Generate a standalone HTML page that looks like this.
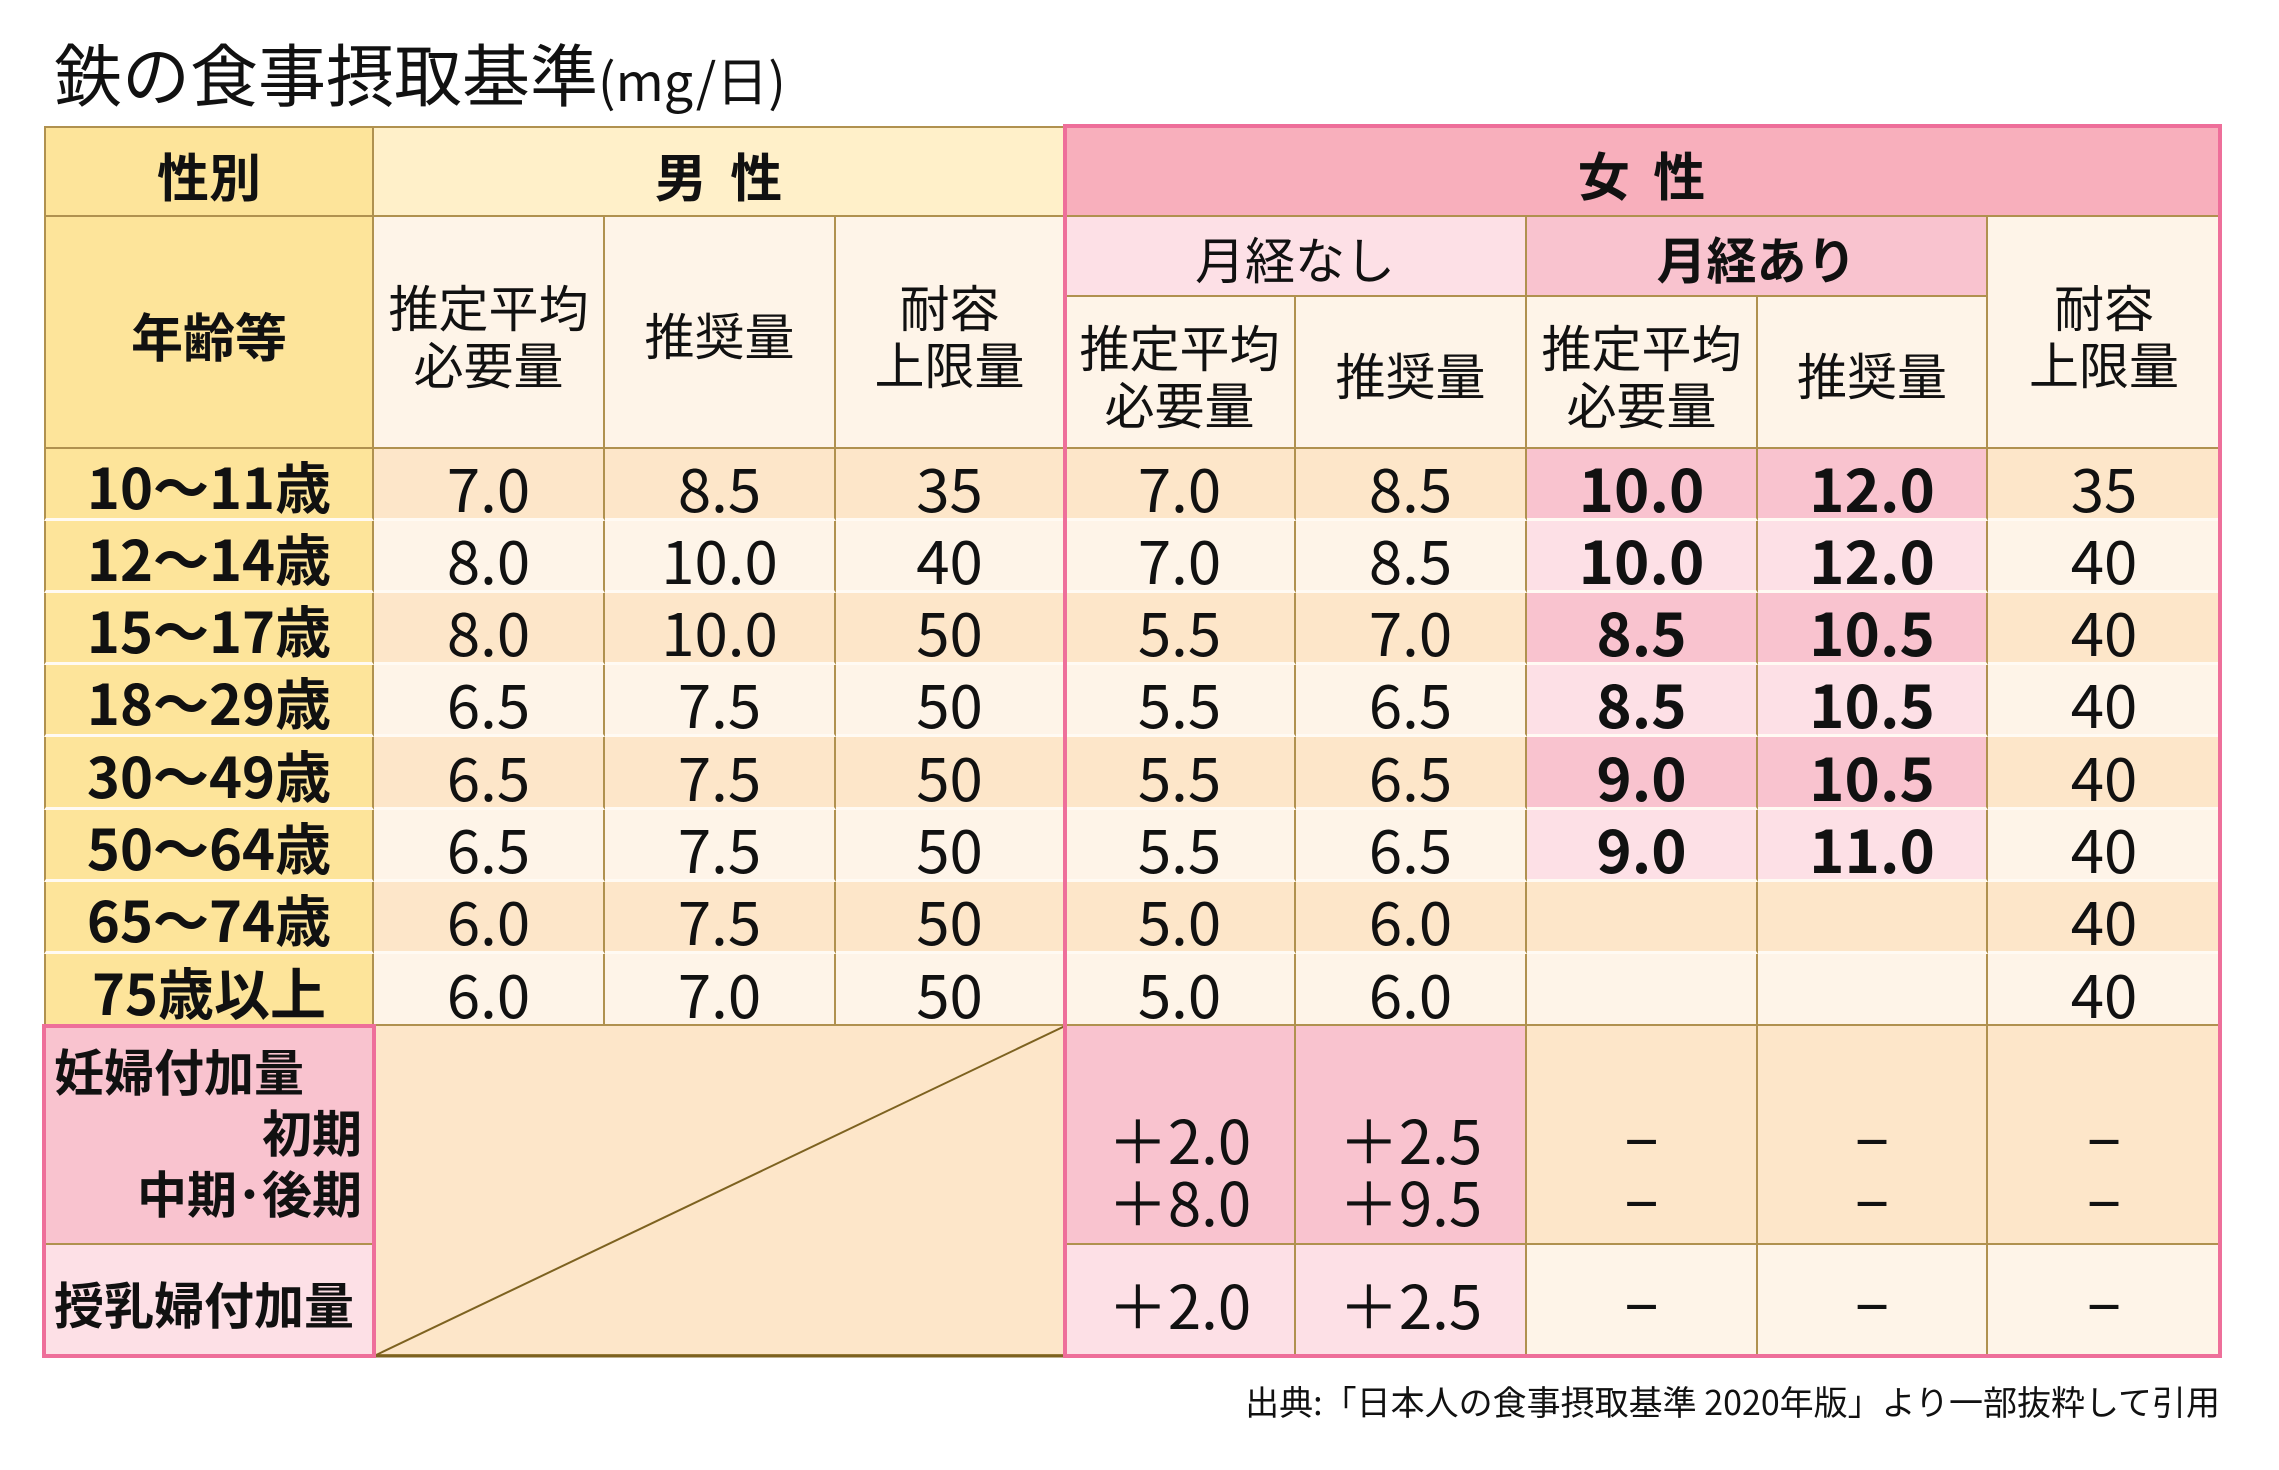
<!DOCTYPE html>
<html><head><meta charset="utf-8"><style>
body{margin:0;width:2279px;height:1470px;background:#fff;position:relative;overflow:hidden;font-family:"Noto Sans CJK JP","Liberation Sans",sans-serif;color:#111}
.c{position:absolute;display:flex;align-items:center;justify-content:center;box-sizing:border-box;border-right:2px solid #b0914f;border-bottom:2px solid #b0914f;text-align:center;line-height:1.15;padding-top:6px}
.h{font-weight:bold;font-size:52px}
.s{font-size:50px}
.d{font-size:60px}
.a{font-size:56px;font-weight:bold}
.b{font-weight:bold}
</style></head><body>
<div style="position:absolute;left:54px;top:22px;font-size:68px;white-space:nowrap">鉄の食事摂取基準<span style="font-size:52px">(mg/日)</span></div>

<div class="c h" style="left:44px;top:126px;width:330px;height:91px;background:#fde49a;border-left:2px solid #b0914f;border-top:2px solid #b0914f">性別</div>
<div class="c h" style="left:374px;top:126px;width:691px;height:91px;background:#fff0c9;border-top:2px solid #b0914f">男&nbsp;&nbsp;性</div>
<div class="c h" style="left:1065px;top:126px;width:1155px;height:91px;background:#f8afbc">女&nbsp;&nbsp;性</div>

<div class="c h" style="left:44px;top:217px;width:330px;height:232px;background:#fde49a;border-left:2px solid #b0914f">年齢等</div>
<div class="c s" style="left:374px;top:217px;width:231px;height:232px;background:#fef4e8">推定平均<br>必要量</div>
<div class="c s" style="left:605px;top:217px;width:231px;height:232px;background:#fef4e8">推奨量</div>
<div class="c s" style="left:836px;top:217px;width:229px;height:232px;background:#fef4e8">耐容<br>上限量</div>
<div class="c s" style="left:1065px;top:217px;width:462px;height:80px;background:#fde0e6">月経なし</div>
<div class="c s b" style="left:1527px;top:217px;width:461px;height:80px;background:#f9c3cf">月経あり</div>
<div class="c s" style="left:1988px;top:217px;width:232px;height:232px;background:#fef4e8;border-right:none">耐容<br>上限量</div>
<div class="c s" style="left:1065px;top:297px;width:231px;height:152px;background:#fef4e8">推定平均<br>必要量</div>
<div class="c s" style="left:1296px;top:297px;width:231px;height:152px;background:#fef4e8">推奨量</div>
<div class="c s" style="left:1527px;top:297px;width:231px;height:152px;background:#fef4e8">推定平均<br>必要量</div>
<div class="c s" style="left:1758px;top:297px;width:230px;height:152px;background:#fef4e8">推奨量</div>

<div id="rows"></div>
<script>
var data=[
["10～11歳","7.0","8.5","35","7.0","8.5","10.0","12.0","35"],
["12～14歳","8.0","10.0","40","7.0","8.5","10.0","12.0","40"],
["15～17歳","8.0","10.0","50","5.5","7.0","8.5","10.5","40"],
["18～29歳","6.5","7.5","50","5.5","6.5","8.5","10.5","40"],
["30～49歳","6.5","7.5","50","5.5","6.5","9.0","10.5","40"],
["50～64歳","6.5","7.5","50","5.5","6.5","9.0","11.0","40"],
["65～74歳","6.0","7.5","50","5.0","6.0","","","40"],
["75歳以上","6.0","7.0","50","5.0","6.0","","","40"]];
var xs=[44,374,605,836,1065,1296,1527,1758,1988,2220];
var h='';
for(var i=0;i<8;i++){
 var y=Math.round(449+72.1*i),y2=Math.round(449+72.1*(i+1));
 var odd=i%2==0;
 for(var j=0;j<9;j++){
  var bg=j==0?'#fde49a':(odd?'#fde6c9':'#fef4e8');
  var cls='c d';
  if(j==0)cls='c a';
  if((j==6||j==7)&&i<6){bg=odd?'#f9c3cf':'#fde0e6';cls='c d b';}
  var st='left:'+xs[j]+'px;top:'+y+'px;width:'+(xs[j+1]-xs[j])+'px;height:'+(y2-y)+'px;background:'+bg+';';
  if(j==0)st+='border-left:2px solid #b0914f;';
  if(j==8)st+='border-right:none;';
  if(i<7)st+='border-bottom:3px solid #fffaf3;';
  h+='<div class="'+cls+'" style="'+st+'">'+data[i][j]+'</div>';
 }
}
document.getElementById('rows').outerHTML=h;
</script>

<div class="c" style="left:44px;top:1026px;width:330px;height:219px;background:#f9c3cf;display:block;text-align:right;font-size:50px;font-weight:bold;padding:14px 10px 0 10px;line-height:61px"><div style="text-align:left">妊婦付加量</div>初期<br>中期･後期</div>
<div class="c" style="left:44px;top:1245px;width:330px;height:111px;background:#fde0e6;font-size:50px;font-weight:bold;justify-content:flex-start;padding-left:10px;border-bottom:none">授乳婦付加量</div>
<div class="c" style="left:374px;top:1026px;width:691px;height:330px;background:#fde6c9;border-right:none"></div>
<svg style="position:absolute;left:0;top:0" width="2279" height="1470"><line x1="374" y1="1356" x2="1065" y2="1026" stroke="#7d6220" stroke-width="2"/><line x1="374" y1="1356" x2="1065" y2="1356" stroke="#7d6220" stroke-width="3"/></svg>

<div class="c d" style="left:1065px;top:1026px;width:231px;height:219px;background:#f9c3cf;line-height:62px;padding-top:70px">＋2.0<br>＋8.0</div>
<div class="c d" style="left:1296px;top:1026px;width:231px;height:219px;background:#f9c3cf;line-height:62px;padding-top:70px">＋2.5<br>＋9.5</div>
<div class="c d" style="left:1527px;top:1026px;width:231px;height:219px;background:#fde6c9;line-height:62px;padding-top:70px">−<br>−</div>
<div class="c d" style="left:1758px;top:1026px;width:230px;height:219px;background:#fde6c9;line-height:62px;padding-top:70px">−<br>−</div>
<div class="c d" style="left:1988px;top:1026px;width:232px;height:219px;background:#fde6c9;line-height:62px;padding-top:70px;border-right:none">−<br>−</div>
<div class="c d" style="left:1065px;top:1245px;width:231px;height:111px;background:#fde0e6;border-bottom:none">＋2.0</div>
<div class="c d" style="left:1296px;top:1245px;width:231px;height:111px;background:#fde0e6;border-bottom:none">＋2.5</div>
<div class="c d" style="left:1527px;top:1245px;width:231px;height:111px;background:#fef4e8;border-bottom:none">−</div>
<div class="c d" style="left:1758px;top:1245px;width:230px;height:111px;background:#fef4e8;border-bottom:none">−</div>
<div class="c d" style="left:1988px;top:1245px;width:232px;height:111px;background:#fef4e8;border-bottom:none;border-right:none">−</div>

<div style="position:absolute;left:1063px;top:124px;width:1159px;height:1234px;border:4px solid #ee6f9a;box-sizing:border-box"></div>
<div style="position:absolute;left:42px;top:1024px;width:334px;height:334px;border:4px solid #ee6f9a;box-sizing:border-box"></div>

<div style="position:absolute;right:59px;top:1376px;font-size:34px;white-space:nowrap">出典:「日本人の食事摂取基準 2020年版」より一部抜粋して引用</div>
</body></html>
